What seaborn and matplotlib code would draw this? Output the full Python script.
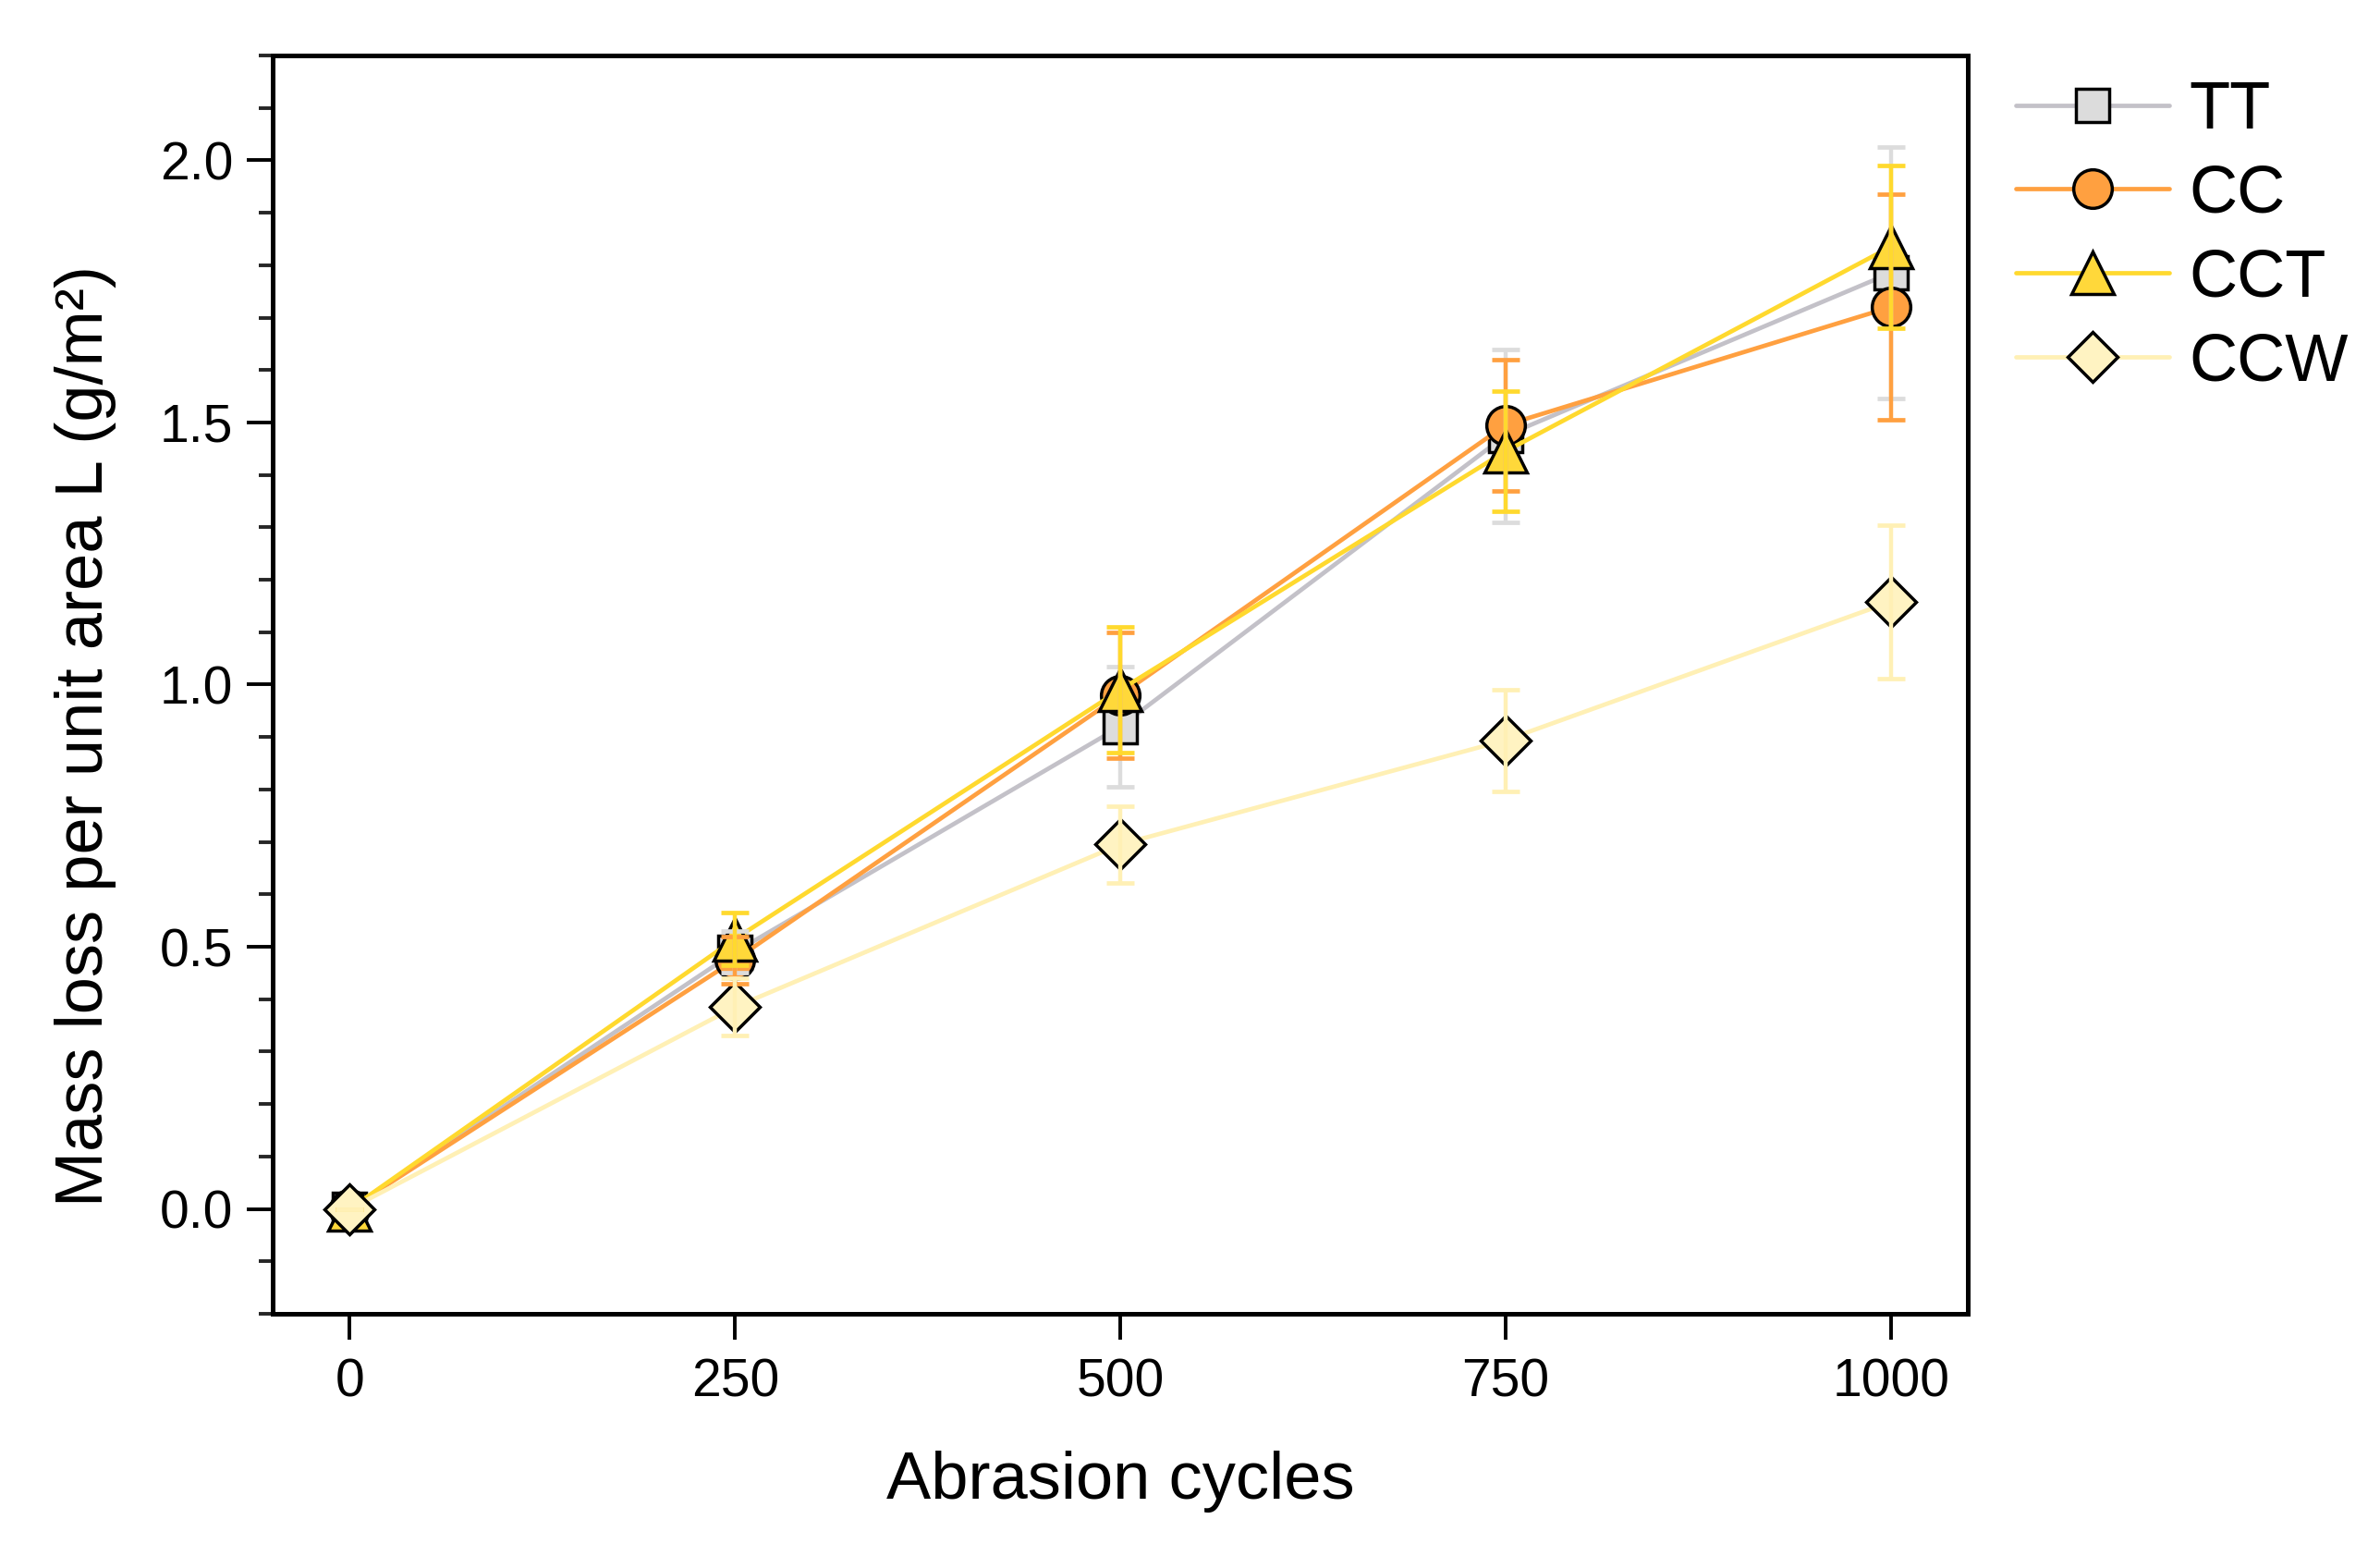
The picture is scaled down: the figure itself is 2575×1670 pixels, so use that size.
import numpy as np
import pandas as pd
import matplotlib
matplotlib.use("Agg")
import matplotlib.pyplot as plt
from matplotlib.ticker import MultipleLocator, FormatStrFormatter
import seaborn as sns

cycles = [0, 250, 500, 750, 1000]
samples = ["TT", "CC", "CCT", "CCW"]

tt = [0.0, 0.49, 0.92, 1.475, 1.785]
tt_err = [0.0, 0.04, 0.115, 0.165, 0.24]
cc = [0.0, 0.475, 0.98, 1.495, 1.72]
cc_err = [0.0, 0.045, 0.12, 0.125, 0.215]
cct = [0.0, 0.515, 0.99, 1.445, 1.835]
cct_err = [0.0, 0.05, 0.12, 0.115, 0.155]
ccw = [0.0, 0.385, 0.695, 0.894, 1.158]
ccw_err = [0.0, 0.055, 0.073, 0.097, 0.147]

line_colors = ["#C3C1C8", "#FFA040", "#FFD92E", "#FFF0B5"]
fill_colors = ["#DCDCDC", "#FFA040", "#FFD83A", "#FFF3C2"]
err_colors = ["#DCDCDC", "#FFA040", "#FFD92E", "#FFF0B5"]
markers = ["s", "o", "^", "D"]
msizes = [26, 30, 33, 27]

df = pd.DataFrame({
    "cycles": cycles * 4,
    "loss": tt + cc + cct + ccw,
    "err": tt_err + cc_err + cct_err + ccw_err,
    "sample": np.repeat(samples, len(cycles)),
})

sns.set_style("ticks")
plt.rcParams["font.family"] = ["Liberation Sans", "DejaVu Sans"]
plt.rcParams["axes.edgecolor"] = "black"
plt.rcParams["text.color"] = "black"
plt.rcParams["axes.labelcolor"] = "black"

fig, ax = plt.subplots(figsize=(25.75, 16.7), dpi=100)
fig.subplots_adjust(left=0.1146, right=0.8268, top=0.9641, bottom=0.1491)

for i, s in enumerate(samples):
    d = df[df["sample"] == s]
    sns.lineplot(data=d, x="cycles", y="loss", ax=ax, errorbar=None,
                 color=line_colors[i], linewidth=3.4, marker=markers[i],
                 markersize=msizes[i], markerfacecolor=fill_colors[i],
                 markeredgecolor="black", markeredgewidth=2.5,
                 label=s, zorder=2 + i)

# error bars sit on top of all markers, like the original
for i, s in enumerate(samples):
    d = df[df["sample"] == s]
    ax.errorbar(d["cycles"], d["loss"], yerr=d["err"], fmt="none",
                ecolor=err_colors[i], elinewidth=3.2, capsize=11,
                capthick=3.4, zorder=6 + i)

ax.set_xlim(-50, 1050)
ax.set_ylim(-0.2, 2.2)
ax.set_xticks(cycles)
ax.yaxis.set_major_locator(MultipleLocator(0.5))
ax.yaxis.set_minor_locator(MultipleLocator(0.1))
ax.yaxis.set_major_formatter(FormatStrFormatter("%.1f"))

ax.tick_params(axis="both", which="major", length=20, width=2.8,
               direction="out", labelsize=41, colors="black")
ax.tick_params(axis="x", which="major", pad=14)
ax.tick_params(axis="y", which="major", pad=11)
ax.tick_params(axis="y", which="minor", length=11, width=2.8, direction="out")
ax.tick_params(top=False, right=False, which="both")
for sp in ax.spines.values():
    sp.set_linewidth(3.6)
    sp.set_color("black")

ax.set_xlabel("Abrasion cycles", fontsize=52, labelpad=34)
ax.set_ylabel("Mass loss per unit area L (g/m²)", fontsize=52)
ax.yaxis.set_label_coords(-0.092, 0.459)

handles, labels = ax.get_legend_handles_labels()
ax.legend(handles, labels, loc="upper left", bbox_to_anchor=(0.847, 0.948),
          bbox_transform=fig.transFigure, frameon=False, fontsize=52,
          handlelength=2.3, handletextpad=0.3, labelspacing=0.33,
          borderpad=0, borderaxespad=0)

fig.savefig("out.png", dpi=100)
